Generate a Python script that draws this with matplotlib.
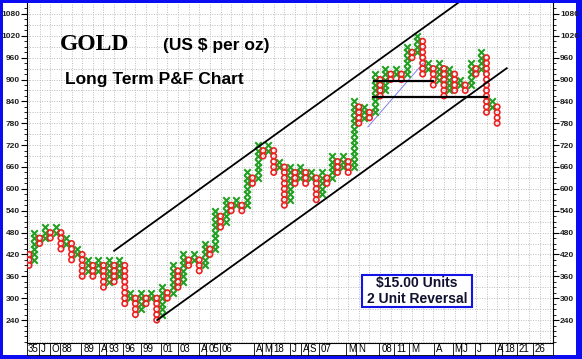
import numpy as np
import matplotlib.pyplot as plt
from matplotlib.patches import Rectangle
from matplotlib.transforms import blended_transform_factory

# point & figure columns: $15 boxes, 2 box reversal
col_type = "OXOXOXOXOXOXOXOXOXOXOXOXOXOXOXOXOXOXOXOXOXOXOXOXOXOXOXOXOXOXOXOXOXOXOXOXOXOXOXOXOXOXOXOXO"
col_low = [390, 405, 450, 465, 465, 480, 435, 450, 405, 420,
           360, 375, 360, 375, 330, 345, 345, 360, 285, 300,
           255, 270, 285, 300, 240, 255, 300, 315, 330, 345,
           390, 405, 375, 390, 420, 435, 495, 510, 540, 555,
           540, 555, 615, 630, 690, 705, 645, 660, 555, 570,
           615, 630, 615, 630, 570, 585, 615, 630, 645, 660,
           645, 660, 780, 795, 795, 810, 855, 870, 900, 915,
           900, 915, 960, 975, 915, 930, 885, 900, 855, 870,
           870, 885, 870, 885, 915, 930, 810, 825, 780]
col_high = [420, 480, 465, 495, 480, 495, 480, 465, 450, 435,
            420, 405, 390, 405, 390, 405, 390, 405, 390, 315,
            300, 315, 300, 315, 300, 330, 315, 390, 375, 420,
            405, 420, 405, 450, 435, 540, 525, 570, 555, 570,
            555, 645, 630, 720, 705, 720, 705, 675, 660, 660,
            645, 660, 645, 645, 630, 645, 630, 690, 675, 690,
            675, 840, 825, 825, 810, 915, 900, 930, 915, 930,
            915, 990, 975, 1020, 1005, 945, 930, 945, 930, 930,
            915, 900, 885, 945, 930, 975, 960, 840, 825]
box = 15

# date labels along the bottom (column where each starts)
date_labels = ["35", "J", "O", "88", "89", "A", "93", "96", "99", "01", "03", "A",
               "05", "06", "A", "M", "18", "J", "A", "S", "07", "M", "N", "08",
               "11", "M", "A", "M", "J", "J", "A", "18", "21", "26"]
date_cols = [-0.2, 2.3, 4.3, 6.2, 10.2, 13.5, 14.9, 18.0, 21.4, 25.2, 28.4, 32.3,
             33.7, 36.3, 42.7, 44.2, 45.9, 49.5, 51.5, 52.8, 54.9, 60.0, 61.8, 66.2,
             69.0, 71.8, 76.5, 80.0, 81.6, 84.2, 88.0, 89.3, 92.1, 95.0]

# trend lines (column, price)
upper_chan = ([16.0, 81.0], [430, 1114])
lower_chan = ([24.1, 89.8], [240, 931])
resist_top = ([64.9, 76.0], [897, 897])
resist_low = ([64.7, 86.0], [852, 852])
blue_line = ([63.7, 74.1], [770, 945])

W, H = 582, 359
fig = plt.figure(figsize=(W / 100, H / 100), dpi=100, facecolor='#0c0cf2')
fig.patches.append(Rectangle((3 / W, 4 / H), 573 / W, 352 / H, transform=fig.transFigure,
                             facecolor='white', edgecolor='none', zorder=-2))
# date strip
fig.patches.append(Rectangle((27 / W, 4.5 / H), 526 / W, 11.5 / H, transform=fig.transFigure,
                             facecolor='white', edgecolor='black', lw=0.6, zorder=-1))
ax = fig.add_axes([27 / W, 16 / H, 526 / W, 340 / H])
ax.set_xlim(-0.38, 98.5)
ax.set_ylim(177, 1110)

# grid
for g in np.arange(0, 99, 2):
    ax.axvline(g, color='#bdbdbd', lw=0.7, ls=(0, (1, 1.5)), zorder=0)
for g in np.arange(180, 1110, 30):
    ax.axhline(g, color='#bdbdbd', lw=0.7, ls=(0, (1, 1.5)), zorder=0)

xs_x, ys_x, xs_o, ys_o = [], [], [], []
for i, (t, lo, hi) in enumerate(zip(col_type, col_low, col_high)):
    b = np.arange(lo, hi + 1, box)
    if t == 'X':
        xs_x += [i] * len(b); ys_x += list(b)
    else:
        xs_o += [i] * len(b); ys_o += list(b)
ax.scatter(xs_x, ys_x, marker='x', s=22, c='#23a023', linewidths=1.5, zorder=3)
ax.scatter(xs_o, ys_o, marker='o', s=15, facecolors='none', edgecolors='#ec2020',
           linewidths=1.2, zorder=3)

ax.plot(*upper_chan, color='black', lw=1.3, zorder=4)
ax.plot(*lower_chan, color='black', lw=1.3, zorder=4)
ax.plot(*resist_top, color='black', lw=1.6, zorder=4)
ax.plot(*resist_low, color='black', lw=1.6, zorder=4)
ax.plot(*blue_line, color='#7f7ff0', lw=0.7, zorder=2)

# axes
ax.set_yticks(np.arange(240, 1081, 60))
ax.set_yticks(np.arange(180, 1110, 15), minor=True)
ax.set_xticks([])
ax.tick_params(axis='y', which='major', direction='out', length=4, width=0.8,
               labelsize=6, left=True, right=True, labelleft=True, labelright=True, pad=1)
ax.tick_params(axis='y', which='minor', direction='out', length=2, width=0.6,
               left=True, right=True)
for lab in ax.get_yticklabels():
    lab.set_fontweight('bold')
    lab.set_family('Liberation Sans')
    lab.set_color('#202020')
ax.spines['top'].set_visible(False)
for s in ['left', 'right', 'bottom']:
    ax.spines[s].set_linewidth(0.8)

tr = blended_transform_factory(ax.transData, ax.transAxes)
for lab, c in zip(date_labels, date_cols):
    if c > 0:
        ax.plot([c - 0.35, c - 0.35], [0, -0.034], transform=tr, color='black', lw=0.6,
                clip_on=False)
    ax.text(c, -0.018, lab, transform=tr, ha='left', va='center', fontsize=7,
            family='Liberation Sans', clip_on=False)

# titles
fig.text(60 / W, 1 - 50 / H, 'GOLD', family='Liberation Serif', weight='bold', fontsize=17,
         va='baseline')
fig.text(163 / W, 1 - 50 / H, '(US $ per oz)', family='Liberation Sans', weight='bold',
         fontsize=12.5, va='baseline')
fig.text(65 / W, 1 - 84 / H, 'Long Term P&F Chart', family='Liberation Sans', weight='bold',
         fontsize=12.5, va='baseline')

fig.patches.append(Rectangle((362 / W, 1 - 307 / H), 110 / W, 32 / H, transform=fig.transFigure,
                             facecolor='white', edgecolor='#1414e6', lw=1.5, zorder=5))
fig.text(417 / W, 1 - 287 / H, '$15.00 Units', family='Liberation Sans', weight='bold',
         fontsize=10, ha='center', va='baseline', color='#101030', zorder=6)
fig.text(417 / W, 1 - 303 / H, '2 Unit Reversal', family='Liberation Sans', weight='bold',
         fontsize=10, ha='center', va='baseline', color='#101030', zorder=6)

fig.savefig('out.png', dpi=100, facecolor=fig.get_facecolor())
